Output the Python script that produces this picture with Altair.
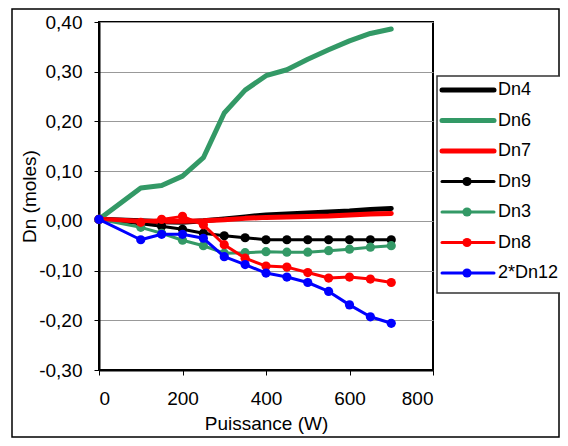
import altair as alt
import pandas as pd

# ---- data ----
puissance = [0, 100, 150, 200, 250, 300, 350, 400, 450, 500, 550, 600, 650, 700]

dn4 = [0.003, 0.000, -0.002, -0.003, 0.000, 0.004, 0.008, 0.012, 0.014, 0.016, 0.018, 0.020, 0.023, 0.025]
dn6 = [0.003, 0.066, 0.071, 0.090, 0.127, 0.217, 0.263, 0.292, 0.304, 0.325, 0.344, 0.362, 0.377, 0.386]
dn7 = [0.003, -0.001, -0.001, -0.001, 0.000, 0.002, 0.005, 0.007, 0.008, 0.009, 0.010, 0.012, 0.014, 0.015]
dn9 = [0.003, -0.006, -0.011, -0.017, -0.025, -0.030, -0.034, -0.038, -0.038, -0.038, -0.038, -0.038, -0.038, -0.038]
dn3 = [0.003, -0.013, -0.025, -0.039, -0.050, -0.065, -0.064, -0.062, -0.063, -0.063, -0.060, -0.057, -0.053, -0.050]
dn8 = [0.003, -0.003, 0.003, 0.009, -0.008, -0.048, -0.075, -0.091, -0.093, -0.104, -0.115, -0.113, -0.117, -0.124]
dn12x2 = [0.003, -0.038, -0.027, -0.027, -0.035, -0.072, -0.088, -0.105, -0.113, -0.124, -0.142, -0.169, -0.193, -0.206]

series_names = ["Dn4", "Dn6", "Dn7", "Dn9", "Dn3", "Dn8", "2*Dn12"]
series_values = [dn4, dn6, dn7, dn9, dn3, dn8, dn12x2]
series_colors = ["#000000", "#339966", "#FF0000", "#000000", "#339966", "#FF0000", "#0000FF"]
series_markers = [False, False, False, True, True, True, True]

y_ticks = [-0.3, -0.2, -0.1, 0.0, 0.1, 0.2, 0.3, 0.4]
x_ticks = [0, 200, 400, 600, 800]

rows = []
for name, vals in zip(series_names, series_values):
    for w, v in zip(puissance, vals):
        rows.append({"W": w, "v": v, "series": name})
df = pd.DataFrame(rows)

FONT = "Liberation Sans"

x_enc = alt.X(
    "W:Q",
    scale=alt.Scale(domain=[0, 800], nice=False, zero=False),
    axis=alt.Axis(
        values=x_ticks, title="Puissance (W)", grid=False,
        tickSize=5, tickColor="black", domainColor="black", domainWidth=2,
        labelPadding=14, labelFontSize=19, labelFont=FONT, labelColor="black",
        titleFont=FONT, titleFontSize=19, titleFontWeight="normal", titleColor="black",
        titleX=167, titleY=59, titleBaseline="alphabetic", titleAlign="center",
    ),
)
y_enc = alt.Y(
    "v:Q",
    scale=alt.Scale(domain=[-0.3, 0.4], nice=False, zero=False),
    axis=alt.Axis(
        values=y_ticks, title="Dn (moles)",
        labelExpr="(datum.value < -0.0001 ? '-' : '') + replace(format(abs(datum.value), '.2f'), '.', ',')",
        grid=True, gridColor="#999999", gridWidth=1,
        tickSize=5, tickColor="black", domainColor="black", domainWidth=2,
        labelPadding=12, labelFontSize=19, labelFont=FONT, labelColor="black",
        titleFont=FONT, titleFontSize=19, titleFontWeight="normal", titleColor="black",
        titleX=-70, titleY=174, titleAngle=270, titleBaseline="middle", titleAlign="center",
    ),
)

base = alt.Chart(df)
layers = []

# outer chart frame
frame_df = pd.DataFrame({"k": [0]})
layers.append(
    alt.Chart(frame_df).mark_rect(fill="transparent", stroke="black", strokeWidth=1.5).encode(
        x=alt.value(-87), x2=alt.value(460), y=alt.value(-13), y2=alt.value(415)
    )
)

for name, color, markers in zip(series_names, series_colors, series_markers):
    sub = base.transform_filter(alt.datum.series == name)
    if markers:
        layers.append(sub.mark_line(color=color, strokeWidth=3, strokeJoin="round").encode(x=x_enc, y=y_enc))
        layers.append(sub.mark_circle(color=color, size=85, opacity=1).encode(x=x_enc, y=y_enc))
    else:
        layers.append(
            sub.mark_line(color=color, strokeWidth=5, strokeJoin="round", strokeCap="round").encode(x=x_enc, y=y_enc)
        )

# legend box
layers.append(
    alt.Chart(frame_df).mark_rect(fill="white", stroke="#333333", strokeWidth=1.5).encode(
        x=alt.value(338), x2=alt.value(466), y=alt.value(54), y2=alt.value(271)
    )
)
for i, (name, color, markers) in enumerate(zip(series_names, series_colors, series_markers)):
    yy = 68 + 30.5 * i
    ldf = pd.DataFrame({"name": [name]})
    lc = alt.Chart(ldf)
    layers.append(
        lc.mark_rule(color=color, strokeWidth=3 if markers else 5, strokeCap="round").encode(
            x=alt.value(343), x2=alt.value(395), y=alt.value(yy)
        )
    )
    if markers:
        layers.append(lc.mark_circle(color=color, size=85, opacity=1).encode(x=alt.value(368), y=alt.value(yy)))
    layers.append(
        lc.mark_text(align="left", baseline="middle", fontSize=18, font=FONT, color="black").encode(
            x=alt.value(399), y=alt.value(yy), text="name:N"
        )
    )

chart = (
    alt.layer(*layers)
    .properties(
        width=334,
        height=348,
        padding={"left": 91, "top": 14, "right": 127, "bottom": 68},
        autosize=alt.AutoSizeParams(type="none"),
        background="white",
    )
    .configure_view(stroke="black", strokeWidth=2)
)

chart.save("out.html", embed_options={"renderer": "svg", "actions": False})
